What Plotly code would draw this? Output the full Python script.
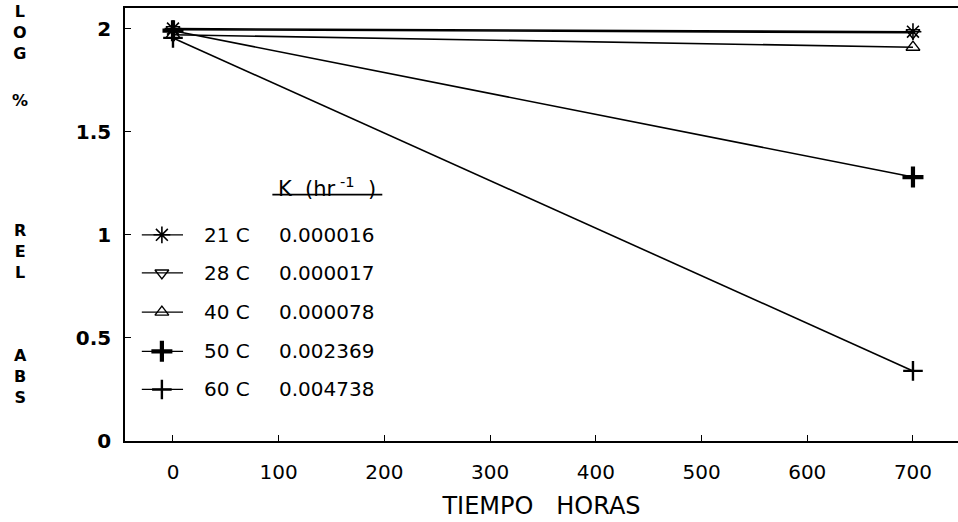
import plotly.graph_objects as go

# ---------------- data ----------------
time_h = [0, 700]
series_names = ["21 C", "28 C", "40 C", "50 C", "60 C"]
k_labels = ["0.000016", "0.000017", "0.000078", "0.002369", "0.004738"]
log_21 = [2.00, 1.985]
log_28 = [1.995, 1.98]
log_40 = [1.97, 1.91]
log_50 = [1.99, 1.28]
log_60 = [1.955, 0.34]
series_values = [log_21, log_28, log_40, log_50, log_60]
x_ticks = [0, 100, 200, 300, 400, 500, 600, 700]
y_ticks = [0, 0.5, 1, 1.5, 2]
y_title_groups = ["LOG", "%", "REL", "ABS"]

# ---------------- styles ----------------
symbols = ["asterisk-open", "triangle-down-open", "triangle-up-open",
           "cross-thin-open", "cross-thin-open"]
msizes = [14, 12, 12, 15, 14]
mwidths = [1.6, 1.4, 1.4, 4.2, 2.4]
FONT = "DejaVu Sans, Liberation Sans, Arial, sans-serif"

fig = go.Figure()
for name, vals, sym, ms, mw in zip(series_names, series_values, symbols, msizes, mwidths):
    fig.add_trace(go.Scatter(
        x=time_h, y=vals, mode="lines+markers", name=name,
        line=dict(color="black", width=1.6),
        marker=dict(symbol=sym, size=ms, color="black",
                    line=dict(color="black", width=mw)),
        showlegend=False, cliponaxis=False))

# ---------------- custom legend ----------------
row_y = [1.0, 0.815, 0.625, 0.435, 0.25]
seg_x0, seg_x1, mark_x = -29.5, 9.5, -10.5
name_x, k_x = 27.5, 98.5
for name, k, ry, sym, ms, mw in zip(series_names, k_labels, row_y, symbols, msizes, mwidths):
    fig.add_shape(type="line", x0=seg_x0, x1=seg_x1, y0=ry, y1=ry,
                  line=dict(color="black", width=1.3))
    fig.add_trace(go.Scatter(
        x=[mark_x], y=[ry], mode="markers", showlegend=False,
        marker=dict(symbol=sym, size=ms, color="black",
                    line=dict(color="black", width=mw))))
    fig.add_annotation(x=name_x, y=ry, text=name, showarrow=False,
                       xanchor="left", yanchor="middle",
                       font=dict(family=FONT, size=20, color="black"))
    fig.add_annotation(x=k_x, y=ry, text=k, showarrow=False,
                       xanchor="left", yanchor="middle",
                       font=dict(family=FONT, size=20, color="black"))

fig.add_annotation(x=146, y=1.23, text="K  (hr<sup> -1</sup>  )", showarrow=False,
                   xanchor="center", yanchor="middle",
                   font=dict(family=FONT, size=21, color="black"))
fig.add_shape(type="line", x0=94, x1=198, y0=1.195, y1=1.195,
              line=dict(color="black", width=1.6))

# ---------------- stacked y-axis title ----------------
group_center_px = [33, 101, 251, 376]
for grp, py in zip(y_title_groups, group_center_px):
    fig.add_annotation(xref="paper", yref="paper",
                       x=(20 - 125) / 833, y=(441 - py) / 433,
                       text="<br>".join("<b>" + c + "</b>" for c in grp),
                       showarrow=False, xanchor="center", yanchor="middle",
                       align="center",
                       font=dict(family=FONT, size=16, color="black"))

fig.update_layout(
    width=958, height=522,
    margin=dict(l=125, r=0, t=8, b=81),
    paper_bgcolor="white", plot_bgcolor="white",
    font=dict(family=FONT, color="black"),
    xaxis=dict(range=[-45.4, 742.6], tickvals=x_ticks,
               ticks="inside", ticklen=6, tickwidth=1.2, tickcolor="black",
               showline=True, linecolor="black", linewidth=1.5, mirror=True,
               showgrid=False, zeroline=False,
               tickfont=dict(family=FONT, size=20, color="black"),
               ticklabelstandoff=12,
               title=dict(text="TIEMPO&nbsp;&nbsp;&nbsp;HORAS",
                          font=dict(family=FONT, size=24, color="black"),
                          standoff=14)),
    yaxis=dict(range=[0, 2.1], tickvals=y_ticks,
               ticks="inside", ticklen=6, tickwidth=1.2, tickcolor="black",
               showline=True, linecolor="black", linewidth=1.5, mirror=False,
               showgrid=False, zeroline=False,
               tickfont=dict(family=FONT, size=20, color="black", weight="bold"),
               ticklabelstandoff=8),
)

fig.write_html("out.html", config={"displayModeBar": False},
               post_script="document.body.style.margin='0';")
